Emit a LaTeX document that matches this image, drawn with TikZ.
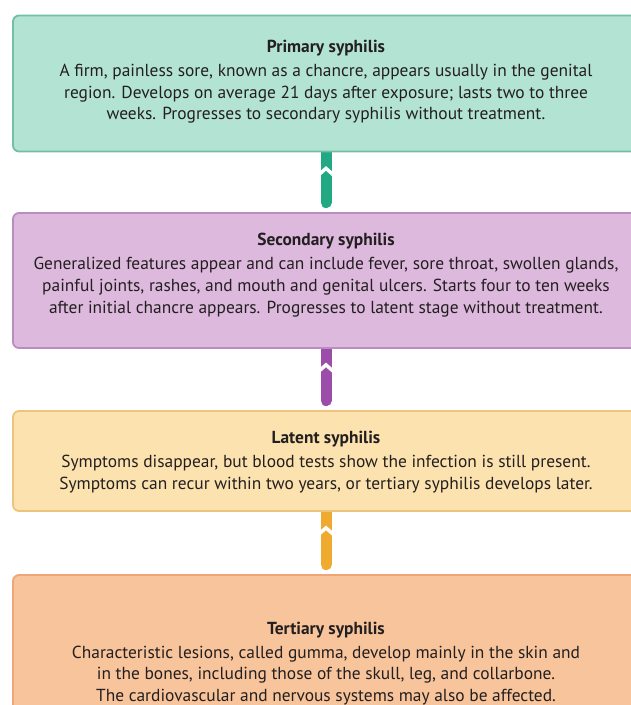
\documentclass[tikz,border=0pt]{standalone}
\usepackage{fontspec}
\setmainfont{PT Sans}
\usetikzlibrary{calc}
\definecolor{txt}{HTML}{231F20}
\definecolor{fillA}{HTML}{B3E3D3}\definecolor{drawA}{HTML}{72BFA3}\definecolor{connA}{HTML}{22A882}
\definecolor{fillB}{HTML}{DDB9DD}\definecolor{drawB}{HTML}{B98DBF}\definecolor{connB}{HTML}{9C4DAA}
\definecolor{fillC}{HTML}{FCE2AE}\definecolor{drawC}{HTML}{EDC47C}\definecolor{connC}{HTML}{EFAA30}
\definecolor{fillD}{HTML}{F8C49B}\definecolor{drawD}{HTML}{EEA57A}
\pgfdeclarelayer{bg}\pgfdeclarelayer{links}
\pgfsetlayers{bg,links,main}
\begin{document}
\begin{tikzpicture}[x=1pt,y=-1pt,
  stagebox/.style={rectangle,rounded corners=6pt,line width=1.8pt,minimum width=626pt,inner sep=0pt},
  stagetext/.style={align=center,text=txt,inner sep=0pt,font=\fontsize{17.4}{21.6}\selectfont},
  link/.style={line width=11pt,line cap=round},
  gap/.style={draw=white,line width=3.5pt}]
\useasboundingbox (0,0) rectangle (630,705);
\begin{pgfonlayer}{bg}
\fill[white] (0,0) rectangle (630,705);
\end{pgfonlayer}
% boxes
\node[stagebox,fill=fillA,draw=drawA,minimum height=136pt] (b1) at (326,83.5) {};
\node[stagebox,fill=fillB,draw=drawB,minimum height=135pt] (b2) at (326,280.5) {};
\node[stagebox,fill=fillC,draw=drawC,minimum height=100pt] (b3) at (326,461) {};
\node[stagebox,fill=fillD,draw=drawD,minimum height=150pt] (b4) at (326,650) {};
% texts
\node[stagetext] (t1) at (326,82) {\textbf{Primary syphilis}\\[2.5pt]
A firm, painless sore, known as a chancre, appears usually in the genital\\
region. Develops on average 21 days after exposure; lasts two to three\\
weeks. Progresses to secondary syphilis without treatment.};
\node[stagetext] (t2) at (326,275) {\textbf{Secondary syphilis}\\[2.5pt]
Generalized features appear and can include fever, sore throat, swollen glands,\\
painful joints, rashes, and mouth and genital ulcers. Starts four to ten weeks\\
after initial chancre appears. Progresses to latent stage without treatment.};
\node[stagetext] (t3) at (326,462) {\textbf{Latent syphilis}\\[2.5pt]
Symptoms disappear, but blood tests show the infection is still present.\\
Symptoms can recur within two years, or tertiary syphilis develops later.};
\node[stagetext] (t4) at (326,663.5) {\textbf{Tertiary syphilis}\\[2.5pt]
Characteristic lesions, called gumma, develop mainly in the skin and\\
in the bones, including those of the skull, leg, and collarbone.\\
The cardiovascular and nervous systems may also be affected.};
% connectors
\begin{pgfonlayer}{links}
\draw[link,draw=connA] (b1.south) -- ([yshift=9.5pt]b2.north);
\draw[link,draw=connB] (b2.south) -- ([yshift=9.5pt]b3.north);
\draw[link,draw=connC] (b3.south) -- ([yshift=9.5pt]b4.north);
\coordinate (n1) at ([yshift=-19pt]b1.south);
\coordinate (n2) at ([yshift=-19pt]b2.south);
\coordinate (n3) at ([yshift=-19pt]b3.south);
\foreach \n in {n1,n2,n3}{
  \draw[gap] ($(\n)+(-8,4)$) -- ($(\n)+(0,-3)$) -- ($(\n)+(8,4)$);
}
\end{pgfonlayer}
\end{tikzpicture}
\end{document}
